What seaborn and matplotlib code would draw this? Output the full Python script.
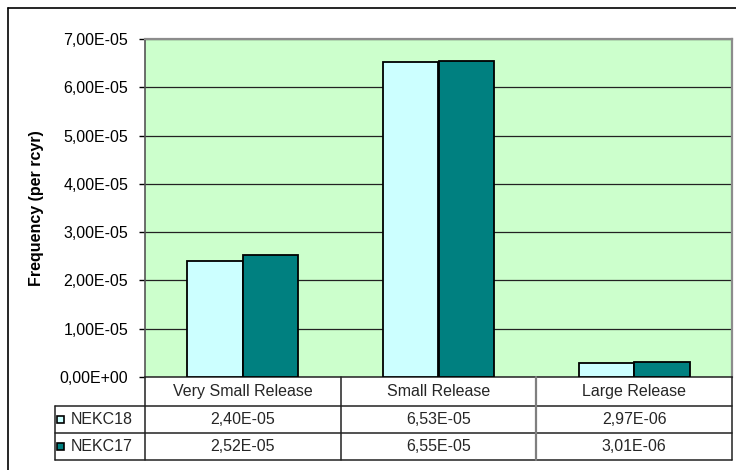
import matplotlib
matplotlib.use("Agg")
import matplotlib.pyplot as plt
from matplotlib.lines import Line2D
from matplotlib.patches import Rectangle
import seaborn as sns
import pandas as pd

# --- data -------------------------------------------------------------
categories = ["Very Small Release", "Small Release", "Large Release"]
series_names = ["NEKC18", "NEKC17"]
nekc18 = [2.40e-05, 6.53e-05, 2.97e-06]
nekc17 = [2.52e-05, 6.55e-05, 3.01e-06]
y_ticks = [0.0, 1e-05, 2e-05, 3e-05, 4e-05, 5e-05, 6e-05, 7e-05]
y_label = "Frequency (per rcyr)"

colors = {"NEKC18": "#CCFFFF", "NEKC17": "#008080"}


def sci_comma(v):
    return f"{v:.2E}".replace(".", ",")


df = pd.DataFrame({
    "category": categories * 2,
    "series": [series_names[0]] * 3 + [series_names[1]] * 3,
    "value": nekc18 + nekc17,
})

# --- figure -----------------------------------------------------------
W, H = 736, 470
DPI = 100
sns.set_theme(style="white")
plt.rcParams["font.family"] = ["Liberation Sans", "DejaVu Sans"]
FS = 11.5

fig = plt.figure(figsize=(W / DPI, H / DPI), dpi=DPI)
fig.patch.set_facecolor("white")


def fx(px):
    return px / W


def fy(py):
    return 1 - py / H


# plot area in pixel layout
left, right, top, bottom = 145, 732, 39, 377
ax = fig.add_axes([fx(left), fy(bottom), fx(right) - fx(left), fy(top) - fy(bottom)])
ax.set_facecolor("#CCFFCC")

sns.barplot(data=df, x="category", y="value", hue="series",
            order=categories, hue_order=series_names, palette=colors,
            saturation=1, width=0.567, edgecolor="black", linewidth=1.3,
            legend=False, ax=ax, zorder=3)

ax.set_xlim(-0.5, len(categories) - 0.5)
ax.set_ylim(y_ticks[0], y_ticks[-1])
ax.set_yticks(y_ticks)
ax.set_yticklabels([sci_comma(v) for v in y_ticks], fontsize=FS, color="black")
ax.set_xticks([])
ax.set_xlabel("")
ax.set_ylabel(y_label, fontsize=FS, fontweight="bold", color="black")
ax.yaxis.set_label_coords((44 - left) / (right - left), 0.5)
ax.tick_params(axis="y", direction="out", length=4, width=1, color="black",
               pad=8, left=True)
ax.yaxis.grid(True, color="#222222", linewidth=0.9, zorder=0)
ax.set_axisbelow(True)

for side in ["top", "right"]:
    ax.spines[side].set_color("#8c8c8c")
    ax.spines[side].set_linewidth(1.6)
ax.spines["left"].set_color("#555555")
ax.spines["left"].set_linewidth(1.2)
ax.spines["bottom"].set_color("#333333")
ax.spines["bottom"].set_linewidth(1.2)

# --- data table under the plot -----------------------------------------
leg_left = 55
row_edges = [bottom, 406, 433, 460]
col_edges = [left]
for i in range(len(categories)):
    col_edges.append(ax.transData.transform((i + 0.5, 0))[0])
col_edges[-1] = right


def hline(y, x0, x1, color="#222222", lw=1.1):
    fig.add_artist(Line2D([fx(x0), fx(x1)], [fy(y), fy(y)], color=color, lw=lw))


def vline(x, y0, y1, color="#222222", lw=1.1):
    fig.add_artist(Line2D([fx(x), fx(x)], [fy(y0), fy(y1)], color=color, lw=lw))


for y in row_edges[1:]:
    hline(y, leg_left, right)
vline(leg_left, row_edges[1], row_edges[-1])
for i, x in enumerate(col_edges):
    c = "#7f7f7f" if i == 2 else "#222222"
    vline(x, row_edges[0], row_edges[-1], color=c, lw=1.6 if i == 2 else 1.1)

# header: category names
for i, cat in enumerate(categories):
    cx = (col_edges[i] + col_edges[i + 1]) / 2
    cy = (row_edges[0] + row_edges[1]) / 2
    fig.text(fx(cx), fy(cy), cat, ha="center", va="center", fontsize=FS)

# value rows with legend keys
for r, (name, vals) in enumerate(zip(series_names, [nekc18, nekc17])):
    cy = (row_edges[r + 1] + row_edges[r + 2]) / 2
    sq = 7
    fig.add_artist(Rectangle((fx(57), fy(cy + sq / 2)), sq / W, sq / H,
                             facecolor=colors[name], edgecolor="black",
                             lw=1.2, transform=fig.transFigure))
    fig.text(fx(71), fy(cy), name, ha="left", va="center", fontsize=FS)
    for i, v in enumerate(vals):
        cx = (col_edges[i] + col_edges[i + 1]) / 2
        fig.text(fx(cx), fy(cy), sci_comma(v), ha="center", va="center", fontsize=FS)

# outer chart frame
hline(8, 8, W, color="black", lw=1.2)
vline(8, 8, H, color="black", lw=1.2)

fig.savefig("out.png", dpi=DPI)
